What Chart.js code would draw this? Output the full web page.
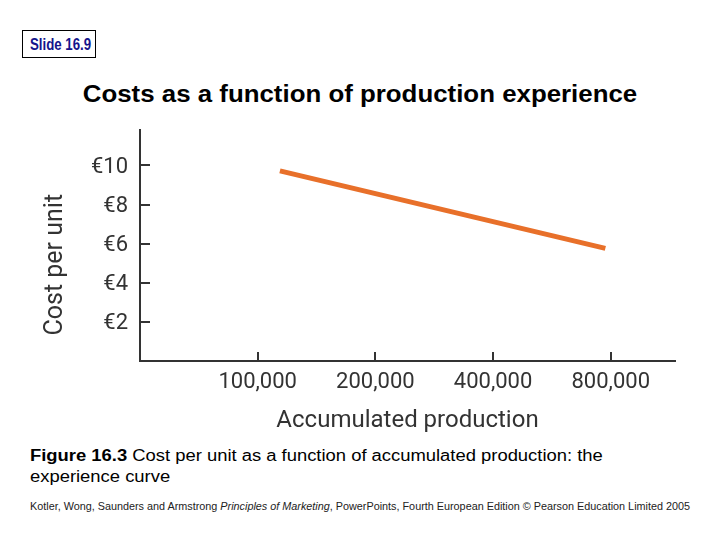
<!DOCTYPE html>
<html>
<head>
<meta charset="utf-8">
<script src="https://cdn.jsdelivr.net/npm/chart.js@4.4.1/dist/chart.umd.min.js"></script>
<style>
  body { margin: 0; width: 720px; height: 540px; background: #fff; position: relative; overflow: hidden; font-family: "Liberation Sans", Arial, sans-serif; }
  #slide { position: absolute; left: 22px; top: 30px; width: 72px; height: 26px; border: 1px solid #000; }
  #slide span { position: absolute; left: 7px; top: 4px; color: #14148c; font-weight: bold; font-size: 17px; line-height: 20px; white-space: nowrap; transform: scaleX(0.78); transform-origin: 0 0; }
  #title { position: absolute; left: 0; width: 720px; top: 81px; text-align: center; font-weight: bold; font-size: 23.5px; color: #000; transform: scaleX(1.1); transform-origin: 360px 0; }
  #wrap { position: absolute; left: 0; top: 95px; width: 700px; height: 340px; }
  #caption { position: absolute; left: 30px; top: 445px; width: 500px; font-size: 16px; line-height: 21px; color: #000; transform: scaleX(1.15); transform-origin: 0 0; }
  #footer { position: absolute; left: 30px; top: 500px; font-size: 10.5px; color: #222; white-space: nowrap; transform: scaleX(1.03); transform-origin: 0 0; }
</style>
</head>
<body>
<div id="slide"><span>Slide 16.9</span></div>
<div id="title">Costs as a function of production experience</div>
<div id="wrap"><canvas id="myChart"></canvas></div>
<div id="caption"><b>Figure 16.3</b> Cost per unit as a function of accumulated production: the experience curve</div>
<div id="footer">Kotler, Wong, Saunders and Armstrong <i>Principles of Marketing</i>, PowerPoints, Fourth European Edition © Pearson Education Limited 2005</div>
<script>
// data
var production = [114000, 775000];
var costPerUnit = [9.72, 5.76];
var xTicks = [100000, 200000, 400000, 800000];
var yTicks = [2, 4, 6, 8, 10];

var ctx = document.getElementById('myChart');
var axisColor = '#333333';
var tickFont = { family: 'Roboto', size: 22 };
var titleFont = { family: 'Roboto', size: 24 };

var points = production.map(function (p, i) { return { x: p, y: costPerUnit[i] }; });

new Chart(ctx, {
  type: 'line',
  data: {
    datasets: [{
      data: points,
      borderColor: '#e8702a',
      borderWidth: 5,
      pointRadius: 0,
      borderCapStyle: 'butt'
    }]
  },
  options: {
    responsive: true,
    maintainAspectRatio: false,
    animation: false,
    layout: { padding: { left: 0, right: 25, top: 5, bottom: 0 } },
    plugins: { legend: { display: false }, tooltip: { enabled: false } },
    scales: {
      x: {
        type: 'logarithmic',
        min: 50000,
        max: 1168000,
        afterBuildTicks: function (axis) {
          axis.ticks = xTicks.map(function (v) { return { value: v }; });
        },
        afterFit: function (axis) { axis.height = 74; },
        border: { display: true, color: axisColor, width: 2 },
        grid: { drawOnChartArea: false, drawTicks: true, tickLength: -9, color: axisColor, lineWidth: 2 },
        ticks: {
          color: axisColor,
          font: tickFont,
          padding: 17,
          autoSkip: false,
          maxRotation: 0,
          callback: function (v) { return Number(v).toLocaleString('en-US'); }
        },
        title: { display: true, text: 'Accumulated production', color: axisColor, font: titleFont, padding: 0 }
      },
      y: {
        min: 0,
        max: 11.8,
        afterBuildTicks: function (axis) {
          axis.ticks = yTicks.map(function (v) { return { value: v }; });
        },
        afterFit: function (axis) { axis.width = 140; },
        border: { display: true, color: axisColor, width: 2 },
        grid: { drawOnChartArea: false, drawTicks: true, tickLength: -10, color: axisColor, lineWidth: 2 },
        ticks: {
          color: axisColor,
          font: tickFont,
          padding: 22,
          labelOffset: 2,
          callback: function (v) { return '€' + v; }
        },
        // trailing en spaces push the title down, as in the figure
        title: { display: true, text: 'Cost per unit\u2002\u2002\u2002', color: axisColor, font: { family: 'Roboto', size: 25 }, padding: { top: 41, bottom: 0 } }
      }
    }
  }
});
</script>
</body>
</html>
